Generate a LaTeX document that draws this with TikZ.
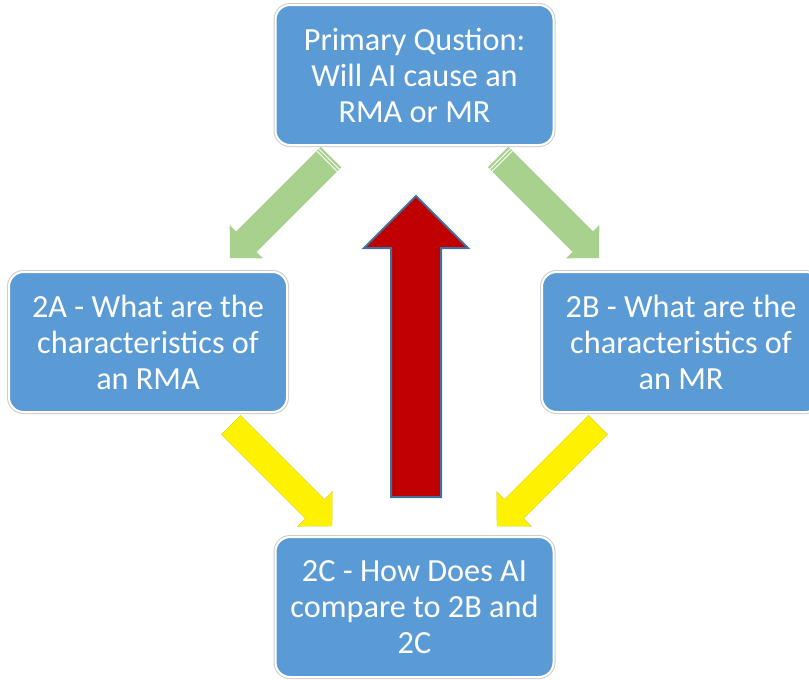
\documentclass[tikz,border=0pt]{standalone}
\usepackage{fontspec}
\setmainfont{Carlito}

\definecolor{boxblue}{RGB}{91,155,213}
\definecolor{boxedge}{RGB}{205,205,205}
\definecolor{arrowgreen}{RGB}{169,209,142}
\definecolor{arrowred}{RGB}{192,0,0}
\definecolor{rededge}{RGB}{65,113,156}

\tikzset{
  qbox/.style={fill=boxblue, draw=white, line width=1.5pt, rounded corners=11pt,
    minimum width=208.5pt, minimum height=105pt, align=center, text=white,
    font=\fontsize{24.2}{27}\selectfont, preaction={draw=boxedge, line width=3pt}},
  greenarrow/.style={fill=arrowgreen},
  yellowarrow/.style={fill=yellow, draw=yellow!85!black, line width=0.3pt},
  redarrow/.style={fill=arrowred, draw=rededge, line width=1.5pt},
}

\begin{document}
\begin{tikzpicture}[x=0.75pt,y=0.75pt,yscale=-1,xscale=1]
%set diagram size to 809 x 679
\clip (0,0) rectangle (809,679);

%Green arrow [left]
\fill[greenarrow] (341.25,167.25) -- (256.55,251.95) -- (262.9,258.3) -- (230,258) -- (229.7,225.1) -- (236.05,231.45) -- (320.75,146.75) -- cycle ;
\draw[white, line width=0.7pt] (339.5,169.5) -- (319,149) (337.4,171.6) -- (316.9,151.1) ;
%Green arrow [right]
\fill[greenarrow] (487.75,167.25) -- (572.45,251.95) -- (566.1,258.3) -- (599,258) -- (599.3,225.1) -- (592.95,231.45) -- (508.25,146.75) -- cycle ;
\draw[white, line width=0.7pt] (489.5,169.5) -- (510,149) (491.6,171.6) -- (512.1,151.1) ;

%Yellow arrow [left]
\draw[yellowarrow] (240.55,415.45) -- (324.55,499.45) -- (332.3,491.7) -- (332,526) -- (297.7,526.3) -- (305.45,518.55) -- (221.45,434.55) -- cycle ;
%Yellow arrow [right]
\draw[yellowarrow] (588.45,415.45) -- (504.45,499.45) -- (496.7,491.7) -- (497,526) -- (531.3,526.3) -- (523.55,518.55) -- (607.55,434.55) -- cycle ;

%Red arrow [up]
\draw[redarrow] (391,497) -- (391,248) -- (364,248) -- (416,196) -- (468,248) -- (441,248) -- (441,497) -- cycle ;

% Text Node
\node[qbox] (primary) at (414.5,75) {Primary Qustion:\\Will AI cause an\\RMA or MR};
% Text Node
\node[qbox] (rma) at (148,342) {2A - What are the\\characteristics of\\an RMA};
% Text Node
\node[qbox] (mr) at (681,342) {2B - What are the\\characteristics of\\an MR};
% Text Node
\node[qbox] (compare) at (414.5,607) {2C - How Does AI\\compare to 2B and\\2C};

\end{tikzpicture}
\end{document}
